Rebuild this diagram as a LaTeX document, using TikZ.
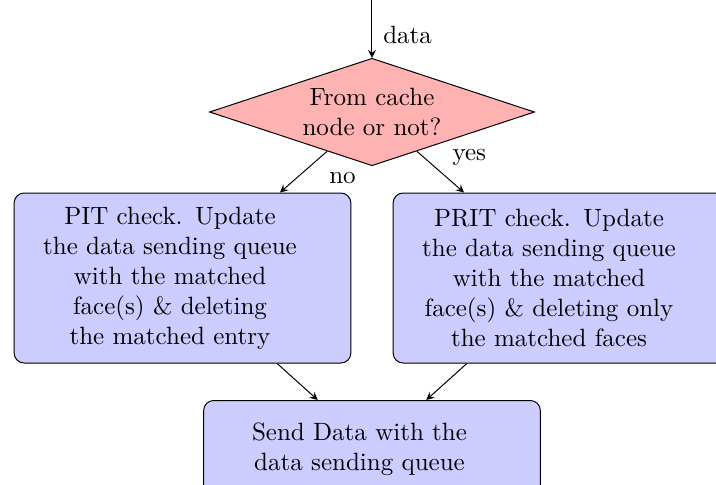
\documentclass[tikz,border=0pt]{standalone}
\usetikzlibrary{shapes.geometric,arrows,positioning}
\begin{document}
\begin{tikzpicture}[
    decision/.style={diamond, draw, fill=red!30, aspect=3, inner sep=0pt, align=center, minimum width=130pt, minimum height=43pt},
    block/.style={rectangle, draw, fill=blue!20, text width=4.5cm, rounded corners, minimum height=68pt,
        execute at begin node={\leftskip=0pt plus 1fil\rightskip=10pt plus 1fil\parfillskip=0pt\parindent=0pt}},
    arrow/.style={->, >=stealth}]
    \useasboundingbox (-148.8pt,-148.8pt) rectangle (137.6pt,44.8pt);

    \coordinate (in) at (0,44.8pt);
    \node [decision] (dec) at (0,0) {From cache\\node or not?};
    \node [block] (pit) at (-75.8pt,-66.4pt) {PIT check.  Update\\the data sending queue\\with the matched\\face(s) \& deleting\\the matched entry};
    \node [block] (prit) at (75.8pt,-66.4pt) {PRIT check.  Update\\the data sending queue\\with the matched\\face(s) \& deleting only\\the matched faces};
    \node [block, minimum height=38.8pt] (send) at (0,-134.8pt) {Send Data with the\\data sending queue};

    \draw [arrow] (in) -- node [right, pos=0.6, xshift=1pt] {data} (dec);
    \draw [arrow] (dec) -- node [below right, pos=0.3, xshift=3pt] {no} (pit);
    \draw [arrow] (dec) -- node [above right, pos=0.57] {yes} (prit);
    \draw [arrow] (pit) -- (send);
    \draw [arrow] (prit) -- (send);
\end{tikzpicture}
\end{document}
